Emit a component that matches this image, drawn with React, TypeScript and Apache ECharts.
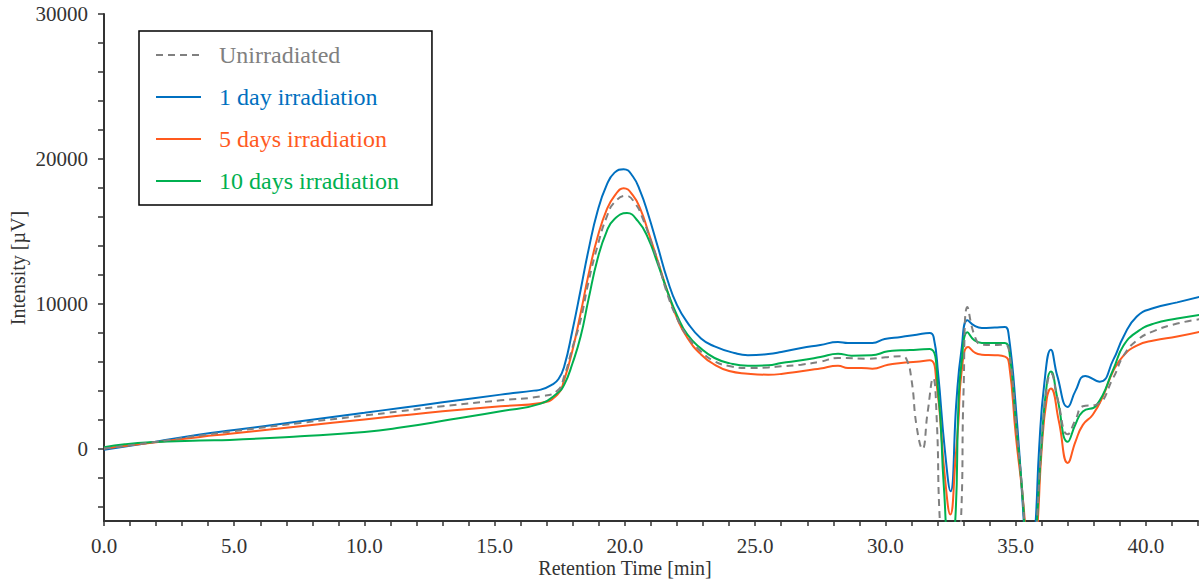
import React, { useEffect, useRef } from "react";
import * as echarts from "echarts";

const FONT = "Liberation Serif";

const SERIES_NAMES = ["Unirradiated", "1 day irradiation", "5 days irradiation", "10 days irradiation"];
const COLORS = ["#808080", "#0070C0", "#FF5A1E", "#00B050"];

const X_MAJOR = [0, 5, 10, 15, 20, 25, 30, 35, 40];
const X_ALL_TICKS = [0, 1, 2, 3, 4, 5, 6, 7, 8, 9, 10, 11, 12, 13, 14, 15, 16, 17, 18, 19, 20, 21, 22, 23, 24, 25, 26, 27, 28, 29, 30, 31, 32, 33, 34, 35, 36, 37, 38, 39, 40, 41, 42];
const Y_MAJOR = [0, 10000, 20000, 30000];
const Y_ALL_TICKS = [-4000, -2000, 0, 2000, 4000, 6000, 8000, 10000, 12000, 14000, 16000, 18000, 20000, 22000, 24000, 26000, 28000, 30000];

// Unirradiated
const unT = [0, 1, 2, 3.69, 5, 7.54, 10, 11.38, 13, 15.23, 16.77, 17.41, 17.67, 17.99, 18.3, 18.6, 18.95, 19.3, 19.6, 20.04, 20.4, 20.7, 21.0, 21.25, 21.64, 22.0, 22.4, 22.92, 23.44, 24.0, 24.72, 25.5, 26.0, 26.77, 27.5, 28.18, 29.33, 30.0, 30.6, 30.8, 31.0, 31.2, 31.42, 31.62, 31.83, 31.97, 32.09, 32.5, 32.9, 33.0, 33.15, 33.43, 33.7, 34.2, 34.59, 34.75, 35.0, 35.33, 35.55, 35.82, 36.0, 36.2, 36.35, 36.6, 37.0, 37.3, 37.58, 38.1, 38.75, 39.14, 39.65, 40.3, 41.2, 42.08];
const unV = [0, 230, 470, 900, 1200, 1770, 2280, 2575, 2920, 3333, 3609, 4000, 5000, 7000, 8897, 11500, 14000, 16000, 17000, 17449, 16900, 15800, 14300, 13000, 10600, 9000, 7747, 6700, 6023, 5700, 5563, 5600, 5678, 5793, 6000, 6253, 6207, 6300, 6368, 6200, 4759, 1500, -23, 2500, 4873, 2000, -5000, -16000, -5000, 4000, 9770, 7747, 7173, 7150, 7173, 6700, 2000, -5000, -14000, -5000, 500, 4300, 5200, 3500, 986, 2000, 2917, 3034, 4897, 6414, 7462, 8110, 8628, 8931];

// 1 day irradiation
const d1T = [0, 1, 2, 3.69, 5, 7.54, 10, 11.38, 13, 15.23, 16.5, 16.77, 17.2, 17.45, 17.67, 17.99, 18.3, 18.6, 18.95, 19.3, 19.6, 19.95, 20.3, 20.6, 20.87, 21.25, 21.64, 22.0, 22.4, 22.92, 23.44, 24.2, 24.72, 25.5, 26.0, 26.77, 27.5, 28.18, 28.56, 29.5, 29.97, 30.6, 31.2, 31.7, 31.85, 32.02, 32.28, 32.5, 32.73, 32.92, 33.15, 33.4, 33.7, 34.2, 34.59, 34.72, 35.0, 35.31, 35.5, 35.77, 35.9, 36.1, 36.35, 36.6, 37.0, 37.3, 37.67, 38.23, 38.75, 39.14, 39.65, 40.3, 41.2, 42.08];
const d1V = [-80, 200, 480, 966, 1280, 1885, 2470, 2805, 3190, 3724, 4000, 4069, 4414, 4800, 5678, 8207, 10966, 13700, 16400, 18200, 19050, 19290, 18800, 17700, 16300, 14000, 11600, 9900, 8700, 7600, 7056, 6599, 6450, 6530, 6669, 6944, 7150, 7357, 7288, 7288, 7564, 7702, 7860, 7977, 7700, 5241, -69, -2940, 3380, 6828, 8850, 8500, 8322, 8350, 8391, 8000, 3000, -5000, -12000, -5000, 0, 4500, 6828, 5000, 2876, 4000, 5014, 4621, 6138, 7724, 9124, 9701, 10091, 10480];

// 5 days irradiation
const d5T = [0, 1, 2, 3.69, 4.83, 7.54, 10, 11.38, 13, 15.23, 16.77, 17.41, 17.67, 17.99, 18.3, 18.6, 18.95, 19.3, 19.6, 19.95, 20.3, 20.6, 20.87, 21.25, 21.64, 22.0, 22.4, 22.92, 23.44, 24.0, 24.72, 25.5, 26.0, 26.77, 27.5, 28.18, 28.56, 29.08, 29.5, 30.1, 30.6, 31.2, 31.7, 31.96, 32.28, 32.49, 32.7, 32.8, 32.92, 33.18, 33.45, 33.7, 34.2, 34.59, 34.75, 35.0, 35.35, 35.55, 35.85, 36.0, 36.2, 36.35, 36.66, 37.0, 37.3, 37.58, 37.96, 38.35, 38.75, 39.14, 39.65, 40.3, 41.2, 42.08];
const d5V = [0, 230, 440, 805, 1020, 1540, 2010, 2276, 2570, 2920, 3152, 3724, 4759, 6828, 9357, 12000, 14600, 16500, 17450, 17979, 17500, 16500, 15100, 13000, 10800, 9000, 7632, 6500, 5793, 5350, 5173, 5100, 5150, 5333, 5530, 5724, 5563, 5563, 5517, 5793, 5908, 6000, 6090, 4550, -1910, -4550, -500, 1793, 5218, 7012, 6600, 6483, 6450, 6350, 5800, 1000, -5000, -13000, -5000, 0, 3500, 4152, 1870, -993, 500, 1635, 2338, 3614, 5366, 6414, 7110, 7462, 7738, 8070];

// 10 days irradiation
const d10T = [0, 0.8, 1.77, 3.69, 4.83, 7.54, 10, 11.38, 13.3, 15.23, 16.77, 17.41, 17.67, 17.99, 18.3, 18.6, 18.95, 19.3, 19.6, 20.08, 20.5, 20.87, 21.25, 21.64, 22.0, 22.4, 22.92, 23.44, 24.0, 24.72, 25.5, 26.0, 26.77, 27.5, 28.18, 28.7, 29.46, 30.1, 30.6, 31.2, 31.7, 32.02, 32.25, 32.45, 32.68, 32.8, 32.92, 33.15, 33.4, 33.7, 34.2, 34.59, 34.75, 35.0, 35.33, 35.55, 35.82, 36.0, 36.2, 36.35, 36.6, 37.0, 37.3, 37.58, 38.1, 38.75, 39.14, 39.65, 40.3, 41.2, 42.08];
const d10V = [100, 300, 437, 560, 600, 850, 1150, 1450, 2000, 2575, 3100, 3839, 4414, 5908, 7746, 10300, 13100, 15000, 15850, 16254, 15700, 14600, 12800, 10800, 9200, 7862, 6900, 6253, 5900, 5724, 5750, 5908, 6091, 6320, 6552, 6414, 6437, 6713, 6781, 6830, 6874, 4069, -2830, -6500, -5000, 2917, 5908, 8023, 7500, 7288, 7280, 7280, 6800, 2000, -5000, -14000, -5000, 500, 4500, 5318, 3500, 469, 1700, 2566, 2986, 5483, 7110, 8042, 8628, 8973, 9230];

const pairs = (t: number[], v: number[]) => t.map((x, i) => [x, v[i]]);

export default function App() {
  const ref = useRef<HTMLDivElement>(null);
  useEffect(() => {
    if (!ref.current) return;
    const chart = echarts.init(ref.current, undefined, { renderer: "svg" });
    const axisColor = "#333333";
    const lineSeries = (idx: number, data: number[][], dashed = false) => ({
      name: SERIES_NAMES[idx],
      type: "line",
      data,
      smooth: 0.5,
      symbol: "none",
      showSymbol: false,
      clip: true,
      color: COLORS[idx],
      lineStyle: { color: COLORS[idx], width: 2, type: dashed ? [7, 5] : "solid" },
      z: dashed ? 5 : 2,
    });
    chart.setOption({
      animation: false,
      backgroundColor: "#ffffff",
      textStyle: { fontFamily: FONT },
      grid: { left: 104, top: 14, right: 5, bottom: 61, containLabel: false },
      legend: {
        orient: "vertical",
        left: 139,
        top: 31,
        itemWidth: 45,
        itemHeight: 14,
        itemGap: 18,
        padding: [12, 33, 12, 16],
        borderColor: "#000000",
        borderWidth: 1.5,
        backgroundColor: "#ffffff",
        itemStyle: { opacity: 0 },
        textStyle: { fontFamily: FONT, fontSize: 24, lineHeight: 24, padding: [0, 0, 0, 13] },
        data: SERIES_NAMES.map((n, i) => ({ name: n, textStyle: { color: COLORS[i] } })),
      },
      xAxis: {
        type: "value",
        min: 0,
        max: 42,
        interval: 5,
        axisLine: { show: true, onZero: false, lineStyle: { color: axisColor, width: 2 } },
        axisTick: { show: true, customValues: X_ALL_TICKS, length: 5, lineStyle: { color: axisColor, width: 1.5 } },
        axisLabel: {
          customValues: X_MAJOR,
          fontFamily: FONT,
          fontSize: 21,
          color: "#333333",
          margin: 14,
          formatter: (v: number) => v.toFixed(1),
        },
        splitLine: { show: false },
      },
      yAxis: {
        type: "value",
        min: -5000,
        max: 30000,
        axisLine: { show: true, onZero: false, lineStyle: { color: axisColor, width: 2 } },
        axisTick: { show: true, customValues: Y_ALL_TICKS, length: 6, lineStyle: { color: axisColor, width: 1.5 } },
        axisLabel: {
          customValues: Y_MAJOR,
          fontFamily: FONT,
          fontSize: 21,
          color: "#333333",
          margin: 16,
          formatter: (v: number) => String(v),
        },
        splitLine: { show: false },
      },
      graphic: [
        {
          type: "text",
          x: 625,
          y: 568,
          style: { text: "Retention Time [min]", font: `20px ${FONT}`, fill: "#333333", align: "center", verticalAlign: "middle" },
        },
        {
          type: "text",
          x: 18,
          y: 268,
          rotation: Math.PI / 2,
          style: { text: "Intensity [µV]", font: `20px ${FONT}`, fill: "#333333", align: "center", verticalAlign: "middle" },
        },
      ],
      series: [
        lineSeries(1, pairs(d1T, d1V)),
        lineSeries(2, pairs(d5T, d5V)),
        lineSeries(3, pairs(d10T, d10V)),
        lineSeries(0, pairs(unT, unV), true),
      ],
    });
    return () => chart.dispose();
  }, []);
  return <div ref={ref} style={{ position: "fixed", left: 0, top: 0, width: 1203, height: 582 }} />;
}
